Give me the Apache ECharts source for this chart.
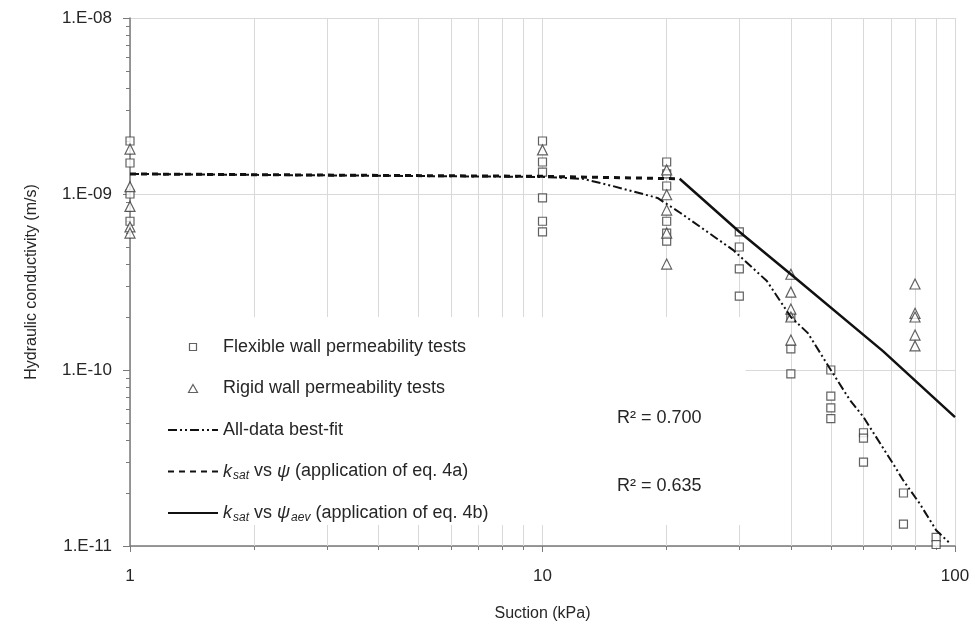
<!DOCTYPE html>
<html>
<head>
<meta charset="utf-8">
<script src="https://cdn.jsdelivr.net/npm/echarts@6/dist/echarts.min.js"></script>
<style>html,body{margin:0;padding:0;background:#fff}#c{width:975px;height:633px}</style>
</head>
<body>
<div id="c"></div>
<script>
// ---- data ----
const flexSuction = [1,1,1,1, 10,10,10,10,10,10, 20,20,20,20,20,20, 30,30,30,30, 40,40,40, 50,50,50,50, 60,60,60, 75,75, 90,90];
const flexK = [2.0e-9,1.5e-9,1.0e-9,7.0e-10, 2.0e-9,1.52e-9,1.33e-9,9.5e-10,7.0e-10,6.1e-10, 1.52e-9,1.3e-9,1.11e-9,7.0e-10,6.0e-10,5.4e-10, 6.1e-10,5.0e-10,3.75e-10,2.63e-10, 2.0e-10,1.32e-10,9.5e-11, 1.0e-10,7.1e-11,6.1e-11,5.3e-11, 4.4e-11,4.1e-11,3.0e-11, 2.0e-11,1.33e-11, 1.12e-11,1.02e-11];
const rigidSuction = [1,1,1,1,1, 10, 20,20,20,20,20, 40,40,40,40,40, 80,80,80,80,80];
const rigidK = [1.8e-9,1.1e-9,8.5e-10,6.5e-10,6.0e-10, 1.78e-9, 1.37e-9,9.9e-10,8.1e-10,6.0e-10,4.0e-10, 3.5e-10,2.77e-10,2.22e-10,2.0e-10,1.48e-10, 3.08e-10,2.1e-10,2.0e-10,1.58e-10,1.37e-10];
const fitSuction = [1,10,12.5,14.8,19,21.6,29,35,40,44,50,55.5,60,70.6,75,82,90,97];
const fitK = [1.30e-9,1.25e-9,1.22e-9,1.11e-9,9.5e-10,7.8e-10,4.8e-10,3.2e-10,2.0e-10,1.62e-10,1.0e-10,6.8e-11,5.4e-11,2.96e-11,2.35e-11,1.75e-11,1.23e-11,1.04e-11];
const eq4aSuction = [1,10,21.5];
const eq4aK = [1.30e-9,1.26e-9,1.22e-9];
const eq4bSuction = [21.5,30,40,66.9,100];
const eq4bK = [1.22e-9,6.1e-10,3.5e-10,1.28e-10,5.4e-11];
const xMinor = [2,3,4,5,6,7,8,9,20,30,40,50,60,70,80,90];
const yMinor = [2e-11,3e-11,4e-11,5e-11,6e-11,7e-11,8e-11,9e-11,2e-10,3e-10,4e-10,5e-10,6e-10,7e-10,8e-10,9e-10,2e-9,3e-9,4e-9,5e-9,6e-9,7e-9,8e-9,9e-9];
const seriesNames = ['Flexible wall permeability tests','Rigid wall permeability tests','All-data best-fit','ksat vs psi','ksat vs psi aev'];
const r2Labels = ['R\u00b2 = 0.700','R\u00b2 = 0.635'];

const zip = (a,b) => a.map((v,i)=>[v,b[i]]);
const FONT = 'Liberation Sans, Arial, sans-serif';
const TXT = '#262626';
const GRID = '#d9d9d9';
const AX = '#7a7a7a';
const MK = '#3a3a3a';

// legend icons: small symbol centred in a 50x9 box (invisible zero-length end points keep the box)
const ICON_SQUARE = 'path://M0,4.5L0,4.5M21.5,1L28.5,1L28.5,8L21.5,8ZM50,4.5L50,4.5';
const ICON_TRI = 'path://M0,0L0,0M25,0.5L29.5,8.5L20.5,8.5ZM50,9L50,9';

const chart = echarts.init(document.getElementById('c'), null, {renderer:'canvas'});
const legendRich = {
  i:{fontStyle:'italic', fontSize:18, fontFamily:FONT, color:TXT},
  s:{fontStyle:'italic', fontSize:12, fontFamily:FONT, color:TXT, padding:[9,0,0,1]},
  n:{fontSize:18, fontFamily:FONT, color:TXT}
};
const hideSym = {color:'rgba(0,0,0,0)', borderColor:'rgba(0,0,0,0)', borderWidth:0};
chart.setOption({
  animation:false,
  backgroundColor:'#fff',
  grid:{left:130, right:20, top:18, bottom:87},
  xAxis:[{
    type:'log', logBase:10, min:1, max:100,
    name:'Suction (kPa)', nameLocation:'middle', nameGap:60,
    nameTextStyle:{fontFamily:FONT, fontSize:16, color:TXT},
    axisLine:{lineStyle:{color:AX, width:1.5}},
    axisTick:{length:6, lineStyle:{color:AX}},
    axisLabel:{fontFamily:FONT, fontSize:17, color:TXT, margin:22},
    splitLine:{show:true, lineStyle:{color:GRID, width:1}}
  },{
    type:'log', logBase:10, min:1, max:100, position:'bottom',
    axisLine:{show:false}, axisLabel:{show:false}, splitLine:{show:false},
    axisTick:{show:true, length:4, lineStyle:{color:AX}, customValues:xMinor}
  }],
  yAxis:[{
    type:'log', logBase:10, min:1e-11, max:1e-8,
    name:'Hydraulic conductivity (m/s)', nameLocation:'middle', nameGap:90,
    nameTextStyle:{fontFamily:FONT, fontSize:16, color:TXT},
    axisLine:{lineStyle:{color:AX, width:1.5}},
    axisTick:{length:7, lineStyle:{color:AX}},
    axisLabel:{fontFamily:FONT, fontSize:17, color:TXT, margin:18,
      formatter:v=>'1.E-'+String(-Math.round(Math.log10(v))).padStart(2,'0')},
    splitLine:{show:true, lineStyle:{color:GRID, width:1}}
  },{
    type:'log', logBase:10, min:1e-11, max:1e-8, position:'left',
    axisLine:{show:false}, axisLabel:{show:false}, splitLine:{show:false},
    axisTick:{show:true, length:4, lineStyle:{color:AX}, customValues:yMinor}
  }],
  legend:{
    orient:'vertical', left:131, top:317,
    padding:[19,257,1,36], itemGap:19.5, itemWidth:50, itemHeight:9,
    backgroundColor:'#fff', selectedMode:false, symbolKeepAspect:true,
    data:[
      {name:seriesNames[0], icon:ICON_SQUARE, itemStyle:{color:'#fff', borderColor:MK, borderWidth:1.2}},
      {name:seriesNames[1], icon:ICON_TRI, itemStyle:{color:'#fff', borderColor:MK, borderWidth:1.2}},
      {name:seriesNames[2], itemStyle:hideSym},
      {name:seriesNames[3], itemStyle:hideSym},
      {name:seriesNames[4], itemStyle:hideSym}
    ],
    textStyle:{fontFamily:FONT, fontSize:18, color:TXT, lineHeight:22, rich:legendRich},
    formatter:function(name){
      if(name==='ksat vs psi') return '{i|k}{s|sat}{n| vs }{i|\u03c8}{n| (application of eq. 4a)}';
      if(name==='ksat vs psi aev') return '{i|k}{s|sat}{n| vs }{i|\u03c8}{s|aev}{n| (application of eq. 4b)}';
      return '{n|'+name+'}';
    }
  },
  graphic:[
    {type:'text', left:617, top:409, z:100, style:{text:r2Labels[0], font:'18px '+FONT, fill:TXT}},
    {type:'text', left:617, top:477, z:100, style:{text:r2Labels[1], font:'18px '+FONT, fill:TXT}}
  ],
  series:[
    {type:'line', name:'grid', data:[], z:1, silent:true,
     markLine:{silent:true, z:1, symbol:'none', label:{show:false}, animation:false,
       lineStyle:{color:GRID, width:1, type:'solid'},
       data:xMinor.map(v=>({xAxis:v}))}},
    {type:'scatter', name:seriesNames[0], data:zip(flexSuction,flexK), symbol:'rect', symbolSize:8, z:3,
     itemStyle:{color:'#fff', borderColor:MK, borderWidth:1.2}},
    {type:'scatter', name:seriesNames[1], data:zip(rigidSuction,rigidK), symbol:'triangle', symbolSize:10, z:3,
     itemStyle:{color:'#fff', borderColor:MK, borderWidth:1.2}},
    {type:'line', name:seriesNames[2], data:zip(fitSuction,fitK), symbol:'none', z:4,
     lineStyle:{color:'#111', width:2, type:[9,3,2,3,2,3]}},
    {type:'line', name:seriesNames[3], data:zip(eq4aSuction,eq4aK), symbol:'none', z:4,
     lineStyle:{color:'#111', width:3, type:[6,5]}},
    {type:'line', name:seriesNames[4], data:zip(eq4bSuction,eq4bK), symbol:'none', z:4,
     lineStyle:{color:'#111', width:2.5}}
  ]
});
</script>
</body>
</html>
